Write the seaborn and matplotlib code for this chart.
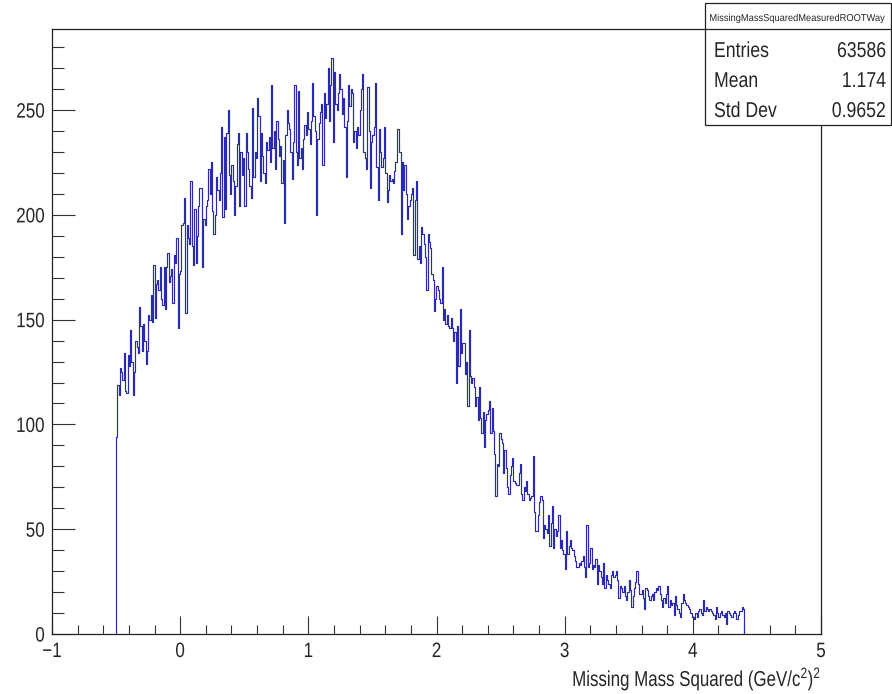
import numpy as np
import pandas as pd
import matplotlib
matplotlib.use("Agg")
import matplotlib.pyplot as plt
import seaborn as sns
from matplotlib.patches import Rectangle
from matplotlib.ticker import MultipleLocator
from matplotlib.patheffects import AbstractPathEffect
from matplotlib.transforms import Affine2D, Bbox

# ---------------- data (bin contents) ----------------
x_start = -0.5          # lower edge of first filled bin
bin_width = 0.01

counts_rise = [
    94, 119, 114, 127, 125, 121, 134, 116, 115, 133,
    128, 145, 130, 114, 125, 140, 137, 134, 156, 147,
    135, 148, 140, 129, 135, 152, 150, 162, 149, 176,
    151, 167, 169, 164, 175, 160, 157, 175, 155, 175,
    182, 168, 171, 174, 158, 181, 177, 189, 146, 172,
    173, 195, 196, 208, 153, 195, 189, 186, 216, 185,
    176, 203,
]
counts_upper = [
    177, 190, 204, 213, 213, 175, 198, 195,
    204, 207, 222, 210, 225, 202, 191, 200, 218, 212,
    207, 220, 242, 199, 237, 203, 239, 250, 219, 210,
    224, 216, 200, 214, 234, 239, 204, 230, 219, 227,
    204, 239, 230, 222, 214, 208, 251, 218, 230, 227,
    256, 247, 216, 239, 228, 220, 215, 235, 231, 237,
    225, 262, 232, 240, 222, 245, 236, 228,
]
counts_peak = [
    233, 215, 226, 196, 238, 250, 244, 241, 230, 217,
    235, 262, 230, 224, 259, 227, 232, 222, 236, 243,
    238, 249, 241, 234, 245, 263, 247, 240, 200, 236,
    244, 249, 253, 224, 258, 246, 253, 270, 245, 262,
    275, 235, 268, 253, 250, 258, 267, 260, 248, 256,
    242, 218, 245, 262, 252, 260, 258, 235, 240, 232,
    242, 238, 250, 260, 267, 230,
]
counts_shoulder = [
    227, 222, 261, 240, 213, 235,
    238, 242, 263, 223, 207, 241, 230, 223, 227, 242,
    220, 206, 212, 219, 216, 217, 215, 221, 225, 241,
    241, 230, 191, 225, 212, 224, 210, 198, 204, 207,
    210, 213, 181, 207, 216, 179, 185, 177, 194, 191,
    186, 180, 164, 191, 187, 184, 172, 169, 154, 160,
    166, 164, 160, 158, 175, 150, 155, 148, 152, 147,
]
counts_fall = [
    146, 151, 146, 140, 144, 120, 147, 128, 155, 134,
    139, 139, 124, 130, 109, 145, 123, 120, 122, 118,
    109, 113, 102, 118, 103, 96, 106, 89, 102, 105,
    107, 111, 96, 108, 97, 86, 66, 81, 80, 96,
    93, 91, 77, 88, 79, 70, 67, 76, 80, 84,
    73, 72, 71, 71, 77, 81, 67, 64, 70, 68,
    73, 67, 64, 65, 66, 85, 58, 49, 49, 57,
    63, 66, 64, 46, 52, 50, 48, 57, 42, 53,
]
counts_tail = [
    61, 41, 50, 47, 49, 57, 41, 45, 40, 38,
    31, 49, 38, 42, 45, 41, 40, 37, 35, 32,
    32, 34, 33, 35, 37, 32, 27, 52, 32, 34,
    41, 31, 33, 32, 36, 24, 33, 30, 27, 24,
    34, 22, 28, 26, 24, 22, 28, 30, 27, 28,
    30, 26, 17, 23, 22, 20,
]
counts_end = [
    23, 18, 16, 20, 26, 21, 13, 18, 22, 25,
    30, 24, 19, 19, 21, 17, 12, 22, 21, 18,
    16, 18, 19, 16, 20, 22, 21, 23, 19, 16,
    13, 17, 15, 19, 23, 13, 16, 14, 15, 9,
    18, 14, 12, 10, 8, 15, 19, 16, 15, 14,
    13, 12, 10, 8, 8, 7, 10, 8, 11, 12,
    10, 9, 16, 11, 13, 12, 11, 12, 11, 10,
    9, 7, 13, 10, 8, 10, 11, 9, 8, 10,
    5, 11, 10, 9, 8, 10, 11, 10, 7, 9,
    11, 11, 13, 12,
]

hist_name = "MissingMassSquaredMeasuredROOTWay"
stat_labels = ["Entries", "Mean", "Std Dev"]
stat_values = ["63586", "1.174", "0.9652"]
x_title = r"Missing Mass Squared (GeV/c$^{2}$)$^{2}$"
y_ticks = [0, 50, 100, 150, 200, 250]
x_ticks = [-1, 0, 1, 2, 3, 4, 5]

counts = np.array(counts_rise + counts_upper + counts_peak + counts_shoulder
                  + counts_fall + counts_tail + counts_end, dtype=float)
n_bins = len(counts)
x_stop = x_start + bin_width * n_bins
centers = x_start + bin_width * (np.arange(n_bins) + 0.5)
df = pd.DataFrame({"mm2": centers, "n": counts})


# ---------------- condensed text rendering (Helvetica-narrow look) ----------
class Condense(AbstractPathEffect):
    """Squeeze a text horizontally around its left/center/right edge."""

    def __init__(self, sx=0.82, align="left"):
        super().__init__()
        self.sx = sx
        self.align = align

    def draw_path(self, renderer, gc, tpath, affine, rgbFace=None):
        ext = tpath.get_extents()
        if self.align == "right":
            x0 = ext.x1
        elif self.align == "center":
            x0 = 0.5 * (ext.x0 + ext.x1)
        else:
            x0 = 0.0
        squeeze = Affine2D().translate(-x0, 0).scale(self.sx, 1).translate(x0, 0)
        renderer.draw_path(gc, tpath, squeeze + affine, rgbFace)


def condense(text, align, sx):
    """Apply the squeeze and report the squeezed extent of the text."""
    text.set_path_effects([Condense(sx, align)])
    orig = text.get_window_extent

    def squeezed_extent(renderer=None, dpi=None):
        bb = orig(renderer=renderer, dpi=dpi)
        if align == "right":
            a = bb.x1
        elif align == "center":
            a = 0.5 * (bb.x0 + bb.x1)
        else:
            a = bb.x0
        return Bbox.from_extents(a + (bb.x0 - a) * sx, bb.y0,
                                 a + (bb.x1 - a) * sx, bb.y1)

    text.get_window_extent = squeezed_extent
    return text


SX = 0.82

# ---------------- style ----------------
sns.set_style("ticks")
plt.rcParams["font.family"] = ["Liberation Sans", "DejaVu Sans"]
plt.rcParams["mathtext.fontset"] = "custom"
plt.rcParams["mathtext.rm"] = "Liberation Sans"
plt.rcParams["mathtext.it"] = "Liberation Sans"
plt.rcParams["axes.unicode_minus"] = True

W, H = 892, 694
fig = plt.figure(figsize=(W / 100, H / 100), dpi=100)
fig.patch.set_facecolor("white")

# frame: left 52, right 821, top 29, bottom 634 (pixels)
ax = fig.add_axes([52 / W, (H - 634) / H, (821 - 52) / W, (634 - 29) / H])
ax.set_facecolor("white")

line_color = "#2a2ab0"
sns.histplot(data=df, x="mm2", weights="n", bins=n_bins,
             binrange=(x_start, x_stop), element="step",
             fill=False, color=line_color, linewidth=0.85, ax=ax)

# vertical edges down to zero at the histogram ends (ROOT draws them)
ax.vlines([x_start, x_stop], 0, [counts[0], counts[-1]],
          colors=line_color, linewidth=0.85)

ax.set_xlim(-1, 5)
ax.set_ylim(0, 288.7)

for s in ax.spines.values():
    s.set_color("#222222")
    s.set_linewidth(0.9)
    s.set_visible(True)

ax.set_xticks(x_ticks)
ax.set_yticks(y_ticks)
ax.xaxis.set_minor_locator(MultipleLocator(0.2))
ax.yaxis.set_minor_locator(MultipleLocator(10))
ax.tick_params(axis="x", which="major", direction="in", length=13, width=0.8,
               color="#333333", labelsize=15, pad=5.8, top=False)
ax.tick_params(axis="x", which="minor", direction="in", length=6.5, width=0.8,
               color="#333333", top=False)
ax.tick_params(axis="y", which="major", direction="in", length=16.5, width=0.8,
               color="#333333", labelsize=15, pad=5, right=False)
ax.tick_params(axis="y", which="minor", direction="in", length=8.5, width=0.8,
               color="#333333", right=False)

ax.set_ylabel("")
ax.set_xlabel(x_title, fontsize=15.5, loc="right")
ax.xaxis.label.set_va("baseline")
ax.xaxis.set_label_coords(1.0, -(686 - 634) / (634 - 29))
condense(ax.xaxis.label, "right", 0.785)

# ---------------- stat box ----------------
def fx(px):
    return px / W

def fy(py):
    return 1 - py / H

box = Rectangle((fx(705), fy(125)), fx(891) - fx(705), fy(3) - fy(125),
                transform=fig.transFigure, facecolor="white",
                edgecolor="#222222", linewidth=0.9, zorder=5)
fig.add_artist(box)
fig.add_artist(plt.Line2D([fx(705), fx(891)], [fy(29), fy(29)],
                          transform=fig.transFigure, color="#222222",
                          linewidth=0.9, zorder=6))
t = fig.text(fx(797), fy(21), hist_name, ha="center", va="baseline",
             fontsize=7.2, zorder=7)
condense(t, "center", 0.93)
baselines = [57, 87, 117]
for lab, val, b in zip(stat_labels, stat_values, baselines):
    t1 = fig.text(fx(714), fy(b), lab, ha="left", va="baseline",
                  fontsize=15.5, zorder=7)
    condense(t1, "left", SX)
    t2 = fig.text(fx(886), fy(b), val, ha="right", va="baseline",
                  fontsize=15.5, zorder=7)
    condense(t2, "right", SX)

fig.canvas.draw()
for lbl in ax.get_xticklabels():
    condense(lbl, "center", SX)
for lbl in ax.get_yticklabels():
    condense(lbl, "right", SX)

fig.savefig("out.png", dpi=100, facecolor="white")
